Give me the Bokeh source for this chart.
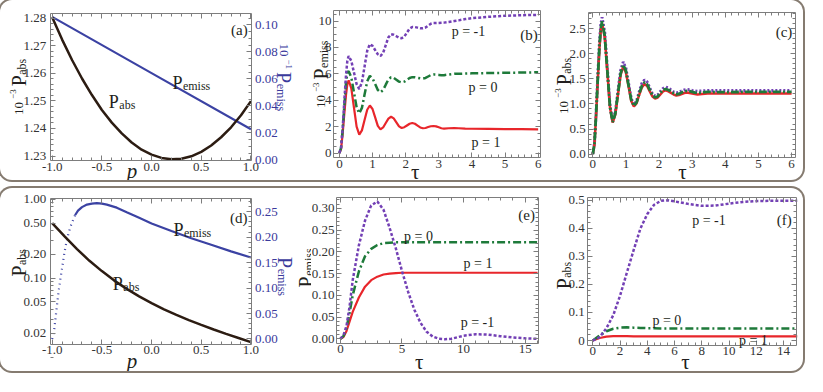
import math
from bokeh.plotting import figure
from bokeh.models import (Range1d, LinearAxis, LogAxis, FixedTicker, PrintfTickFormatter, Label,
                          LinearScale)
from bokeh.layouts import row, column
from bokeh.embed import file_html
from bokeh.resources import INLINE

# ---------------- data ----------------
# (a) 10^-3 P_abs (left axis) and 10^-1 P_emiss (right axis) versus p
p_a = [-1.0, -0.9, -0.8, -0.7, -0.6, -0.5, -0.4, -0.3, -0.2, -0.1, 0.0,
       0.1, 0.2, 0.3, 0.4, 0.5, 0.6, 0.7, 0.8, 0.9, 1.0]
pabs_a = [1.2803, 1.2722, 1.2648, 1.2581, 1.2521, 1.2467, 1.2421, 1.2382, 1.2349, 1.2323, 1.2305,
          1.2293, 1.2288, 1.2290, 1.2299, 1.2315, 1.2338, 1.2368, 1.2404, 1.2448, 1.2499]
p_a_em = [-1.0, 0.0, 1.0]
pemiss_a = [0.106, 0.0643, 0.0227]

# (b), (c) time grid
tau_bc = [0, 0.05, 0.10, 0.15, 0.20, 0.24, 0.28, 0.36, 0.44, 0.52, 0.60, 0.68, 0.76, 0.84, 0.92,
          1.00, 1.08, 1.16, 1.24, 1.32, 1.40, 1.48, 1.56, 1.64, 1.72, 1.80, 1.88, 1.96, 2.04,
          2.12, 2.20, 2.28, 2.36, 2.44, 2.52, 2.60, 2.68, 2.76, 2.84, 2.92, 3.00, 3.08, 3.16,
          3.30, 3.47, 3.60, 3.80, 4.00, 4.50, 5.00, 5.50, 6.00]
# (b) 10^-3 P_emiss
emiss_b_p1 = [0, 0.3, 1.5, 3.0, 4.4, 5.2, 5.5, 4.9, 3.45, 2.0, 1.4, 1.72, 2.5, 3.28, 3.6,
              3.34, 2.7, 2.06, 1.8, 1.94, 2.28, 2.61, 2.75, 2.63, 2.33, 2.02, 1.9, 1.96, 2.09,
              2.22, 2.28, 2.22, 2.08, 1.94, 1.88, 1.9, 1.97, 2.03, 2.05, 2.02, 1.95, 1.88, 1.85,
              1.88, 1.9, 1.88, 1.85, 1.84, 1.83, 1.82, 1.81, 1.8]
emiss_b_0 = [0, 0.4, 1.8, 3.6, 5.3, 6.1, 6.2, 5.73, 4.6, 3.47, 3.0, 3.42, 4.43, 5.43, 5.85,
             5.67, 5.23, 4.78, 4.6, 4.77, 5.18, 5.58, 5.75, 5.69, 5.55, 5.41, 5.35, 5.41, 5.55,
             5.69, 5.75, 5.74, 5.70, 5.66, 5.65, 5.69, 5.80, 5.91, 5.95, 5.94, 5.92, 5.90, 5.90,
             5.95, 6.0, 6.0, 6.02, 6.04, 6.06, 6.08, 6.1, 6.12]
emiss_b_m1 = [0, 0.4, 1.9, 4.0, 5.9, 7.0, 7.35, 6.98, 6.1, 5.22, 4.85, 5.35, 6.55, 7.75, 8.25,
              8.12, 7.8, 7.48, 7.35, 7.59, 8.18, 8.76, 9.0, 8.96, 8.85, 8.74, 8.7, 8.82, 9.13,
              9.43, 9.55, 9.54, 9.5, 9.46, 9.45, 9.51, 9.65, 9.79, 9.85, 9.85, 9.86, 9.87, 9.88,
              9.93, 10.0, 10.05, 10.15, 10.22, 10.32, 10.4, 10.44, 10.47]
# (c) 10^-3 P_abs
abs_c_p1 = [0, 0.19, 0.78, 1.47, 2.11, 2.46, 2.61, 2.33, 1.63, 0.92, 0.63, 0.79, 1.19, 1.58, 1.75,
            1.63, 1.35, 1.06, 0.95, 1.01, 1.18, 1.33, 1.40, 1.36, 1.25, 1.15, 1.11, 1.13, 1.19,
            1.25, 1.27, 1.25, 1.22, 1.19, 1.17, 1.18, 1.2, 1.22, 1.23, 1.22, 1.21, 1.2, 1.19,
            1.2, 1.21, 1.21, 1.21, 1.21, 1.21, 1.21, 1.21, 1.21]
abs_c_0 = [0, 0.2, 0.8, 1.5, 2.15, 2.5, 2.65, 2.36, 1.65, 0.93, 0.64, 0.81, 1.21, 1.61, 1.78,
           1.66, 1.37, 1.08, 0.96, 1.03, 1.2, 1.36, 1.43, 1.39, 1.28, 1.17, 1.13, 1.15, 1.22,
           1.28, 1.30, 1.28, 1.25, 1.21, 1.19, 1.2, 1.23, 1.25, 1.26, 1.255, 1.24, 1.225, 1.22,
           1.23, 1.24, 1.24, 1.235, 1.235, 1.24, 1.24, 1.24, 1.24]
abs_c_m1 = [0, 0.21, 0.83, 1.55, 2.22, 2.58, 2.73, 2.43, 1.7, 0.96, 0.66, 0.84, 1.26, 1.67, 1.84,
            1.71, 1.41, 1.11, 0.98, 1.06, 1.24, 1.41, 1.48, 1.44, 1.32, 1.2, 1.16, 1.18, 1.25,
            1.31, 1.34, 1.32, 1.28, 1.24, 1.22, 1.23, 1.26, 1.28, 1.29, 1.285, 1.27, 1.26, 1.255,
            1.26, 1.27, 1.27, 1.27, 1.27, 1.27, 1.27, 1.27, 1.27]

# (d) P_abs (log, left) and P_emiss (right) versus p
p_d = [-1.0, -0.875, -0.75, -0.625, -0.5, -0.375, -0.25, -0.125, 0.0,
       0.125, 0.25, 0.375, 0.5, 0.625, 0.75, 0.875, 1.0]
pabs_d = [0.500, 0.339, 0.234, 0.166, 0.123, 0.0933, 0.0733, 0.0589, 0.0484,
          0.0403, 0.0343, 0.0295, 0.0257, 0.0224, 0.0197, 0.0175, 0.0155]
p_d_em = [-1.0, -0.98, -0.96, -0.94, -0.92, -0.90, -0.88, -0.86, -0.84, -0.82, -0.80, -0.77,
          -0.74, -0.70, -0.65, -0.60, -0.55, -0.50, -0.45, -0.35, -0.25, -0.125, 0.0, 0.2,
          0.4, 0.6, 0.8, 1.0]
pemiss_d = [0.0, 0.017, 0.052, 0.086, 0.115, 0.139, 0.166, 0.187, 0.204, 0.218, 0.229, 0.243,
            0.252, 0.259, 0.264, 0.266, 0.267, 0.266, 0.264, 0.258, 0.249, 0.238, 0.227, 0.212,
            0.198, 0.185, 0.172, 0.160]
N_DOTTED = 12  # first points of P_emiss(d) drawn as the dotted steep part

# (e) P_emiss versus tau
tau_e = [0, 0.25, 0.5, 0.75, 1.0, 1.5, 2.0, 2.5, 3.0, 3.5, 4.0, 4.5, 5.0, 5.5, 6.0, 6.5, 7.0,
         7.5, 8.0, 8.5, 9.0, 10.0, 11.0, 12.0, 13.0, 14.0, 15.0, 16.0]
emiss_e_m1 = [0, 0.008, 0.03, 0.075, 0.135, 0.215, 0.272, 0.307, 0.316, 0.297, 0.255, 0.208,
              0.156, 0.108, 0.067, 0.037, 0.016, 0.005, 0.0, -0.001, 0.0, 0.007, 0.0105,
              0.0095, 0.006, 0.003, 0.001, 0.0]
emiss_e_0 = [0, 0.006, 0.025, 0.06, 0.10, 0.155, 0.19, 0.207, 0.216, 0.22, 0.221, 0.222, 0.222,
             0.222, 0.222, 0.222, 0.222, 0.222, 0.222, 0.222, 0.222, 0.222, 0.222, 0.222,
             0.222, 0.222, 0.222, 0.222]
emiss_e_p1 = [0, 0.004, 0.018, 0.04, 0.062, 0.095, 0.12, 0.135, 0.143, 0.148, 0.15, 0.151,
              0.152, 0.152, 0.152, 0.152, 0.152, 0.152, 0.152, 0.152, 0.152, 0.152, 0.152,
              0.152, 0.152, 0.152, 0.152, 0.152]

# (f) P_abs versus tau
tau_f = [0, 0.5, 1.0, 1.5, 2.0, 2.5, 3.0, 3.5, 4.0, 4.5, 5.0, 5.5, 6.0, 7.0, 8.0, 9.0, 10.0,
         11.0, 12.0, 13.0, 14.0, 15.0]
abs_f_m1 = [0, 0.012, 0.044, 0.09, 0.16, 0.242, 0.323, 0.40, 0.451, 0.484, 0.498, 0.5, 0.496,
            0.487, 0.480, 0.481, 0.488, 0.494, 0.497, 0.498, 0.498, 0.498]
abs_f_0 = [0, 0.018, 0.033, 0.042, 0.046, 0.047, 0.046, 0.045, 0.044, 0.044, 0.043, 0.043,
           0.043, 0.043, 0.043, 0.043, 0.043, 0.043, 0.043, 0.043, 0.043, 0.043]
abs_f_p1 = [0, 0.009, 0.014, 0.016, 0.016, 0.016, 0.015, 0.015, 0.015, 0.015, 0.015, 0.015,
            0.015, 0.015, 0.015, 0.015, 0.015, 0.015, 0.015, 0.015, 0.015, 0.015]

# tick values
xt_p = [-1.0, -0.5, 0.0, 0.5, 1.0]
yt_a = [1.23, 1.24, 1.25, 1.26, 1.27, 1.28]
yt_a_em = [0.0, 0.02, 0.04, 0.06, 0.08, 0.10]
xt_bc = [0, 1, 2, 3, 4, 5, 6]
yt_b = [0, 2, 4, 6, 8, 10]
yt_c = [0.0, 0.5, 1.0, 1.5, 2.0, 2.5]
yt_d = [0.02, 0.05, 0.1, 0.2, 0.5, 1.0]
yt_d_em = [0.0, 0.05, 0.10, 0.15, 0.20, 0.25]
xt_e = [0, 5, 10, 15]
yt_e = [0.0, 0.05, 0.10, 0.15, 0.20, 0.25, 0.30]
xt_f = [0, 2, 4, 6, 8, 10, 12, 14]
yt_f = [0.0, 0.1, 0.2, 0.3, 0.4, 0.5]

# ---------------- style / geometry ----------------
FONT = "Liberation Serif"
INK = "#231f20"
TICKC = "#333333"
BLUE_TXT = "#3a3a9c"
BLUE = "#3b42a3"
BROWN = "#2c1c12"
RED = "#e8262b"
GREEN = "#1e7a3a"
PURPLE = "#7340b5"
FRAME = "#7d7d7d"
SX = 0.9938

TOP = dict(r0=6, sy=0.978, H=180)
BOT = dict(r0=199, sy=0.979, H=183)
G = {
    "a": dict(x0=0, W=302, **TOP),
    "b": dict(x0=302, W=243, **TOP),
    "c": dict(x0=545, W=258, **TOP),
    "d": dict(x0=0, W=311, **BOT),
    "e": dict(x0=311, W=234, **BOT),
    "f": dict(x0=545, W=258, **BOT),
}


def cx_of(rx, key):
    return (rx - 7) * SX - G[key]["x0"]


def cy_of(ry, key):
    return (ry - G[key]["r0"]) * G[key]["sy"]


def lin(d1, c1, d2, c2):
    s = (d2 - d1) / (c2 - c1)
    return lambda c: d1 + (c - c1) * s


CW = {"0": .5, "1": .5, "2": .5, "3": .5, "4": .5, "5": .5, "6": .5, "7": .5, "8": .5, "9": .5,
      ".": .25, "-": .333, "\u2212": .564, " ": .25, "P": .556, "a": .444, "b": .5, "s": .389,
      "e": .444, "m": .778, "i": .278, "p": .5, "=": .564, "(": .333, ")": .333, "c": .444,
      "d": .5, "f": .333, "\u03c4": .45}


def tw(s, size):
    return size * sum(CW.get(ch, 0.5) for ch in s)


def rich(p, key, rx, ry, parts, angle=0.0, color=INK, style="normal"):
    H = G[key]["H"]
    cx, cy = cx_of(rx, key), cy_of(ry, key)
    ax, ay = math.cos(angle), -math.sin(angle)
    ux, uy = -math.sin(angle), -math.cos(angle)
    pos = 0.0
    for text, size, shift, gap in parts:
        pos += gap
        x = cx + ax * pos + ux * shift
        y = cy + ay * pos + uy * shift
        p.add_layout(Label(x=x, y=H - y, x_units="screen", y_units="screen", text=text,
                           angle=angle, text_font=FONT, text_font_size=f"{size}px",
                           text_font_style=style, text_color=color, text_align="left",
                           text_baseline="alphabetic"))
        pos += tw(text, size)


# composed axis titles (superscript / subscript pieces)
def title_10P(sub, exp):
    return [("10", 13, 0, 0), ("\u2212" + exp, 9, 5.5, 3), ("P", 20, 0, 3), (sub, 12, -3, 0.5)]


def title_P(sub):
    return [("P", 20, 0, 0), (sub, 12, -3, 0.5)]


def style_axis(ax, ticks, minor, fmt=None, labels=True, color=TICKC, overrides=None, standoff=3):
    ax.ticker = FixedTicker(ticks=ticks, minor_ticks=minor)
    if fmt:
        ax.formatter = PrintfTickFormatter(format=fmt)
    if overrides:
        ax.major_label_overrides = overrides
    ax.major_tick_in = 5
    ax.major_tick_out = 0
    ax.minor_tick_in = 3
    ax.minor_tick_out = 0
    ax.major_tick_line_color = FRAME
    ax.minor_tick_line_color = FRAME
    ax.axis_line_color = FRAME
    ax.axis_line_width = 1
    ax.major_label_text_font = FONT
    ax.major_label_text_font_size = "13px"
    ax.major_label_text_color = color
    ax.major_label_standoff = standoff
    if not labels:
        ax.major_label_text_font_size = "0px"
        ax.major_label_text_alpha = 0
        ax.major_label_standoff = 0


def frange(a, b, s):
    n = int(round((b - a) / s))
    return [round(a + i * s, 6) for i in range(n + 1)]


def panel(key, xcal, ycal, xbox, ybox, ylog=False, emcal=None):
    g = G[key]
    W, H = g["W"], g["H"]
    fx = lin(xcal[0], cx_of(xcal[1], key), xcal[2], cx_of(xcal[3], key))
    if ylog:
        fl = lin(math.log10(ycal[0]), cy_of(ycal[1], key), math.log10(ycal[2]), cy_of(ycal[3], key))
        fy = lambda c: 10 ** fl(c)
    else:
        fy = lin(ycal[0], cy_of(ycal[1], key), ycal[2], cy_of(ycal[3], key))
    p = figure(width=W, height=H, x_range=Range1d(fx(0), fx(W)), y_range=Range1d(fy(H), fy(0)),
               y_axis_type="log" if ylog else "linear", x_axis_location=None,
               y_axis_location=None, min_border=0, output_backend="svg", toolbar_location=None)
    p.xgrid.visible = False
    p.ygrid.visible = False
    p.outline_line_color = None
    p.background_fill_color = None
    p.border_fill_color = None
    g["xb"] = (fx(cx_of(xbox[0], key)), fx(cx_of(xbox[1], key)))
    g["yb"] = (fy(cy_of(ybox[1], key)), fy(cy_of(ybox[0], key)))
    if emcal is not None:
        fe = lin(emcal[0], cy_of(emcal[1], key), emcal[2], cy_of(emcal[3], key))
        p.extra_y_ranges = {"em": Range1d(fe(H), fe(0))}
        p.extra_y_scales = {"em": LinearScale()}
        g["eb"] = (fe(cy_of(ybox[1], key)), fe(cy_of(ybox[0], key)))
    return p


def axes(p, key, xt, xm, xfmt, yt, ym, yfmt, ylog=False, yover=None, em=None, ystand=4):
    g = G[key]
    xb, yb = g["xb"], g["yb"]
    b = LinearAxis(fixed_location=yb[0], bounds=xb)
    style_axis(b, xt, xm, xfmt, standoff=2)
    p.add_layout(b, "below")
    t = LinearAxis(fixed_location=yb[1], bounds=xb)
    style_axis(t, xt, xm, labels=False)
    p.add_layout(t, "above")
    Ax = LogAxis if ylog else LinearAxis
    lft = Ax(fixed_location=xb[0], bounds=yb)
    style_axis(lft, yt, ym, yfmt, overrides=yover, standoff=ystand)
    p.add_layout(lft, "left")
    if em is None:
        r = Ax(fixed_location=xb[1], bounds=yb)
        style_axis(r, yt, ym, labels=False)
    else:
        r = LinearAxis(y_range_name="em", fixed_location=xb[1], bounds=g["eb"])
        style_axis(r, em[0], em[1], "%.2f", color=BLUE_TXT, standoff=3)
    p.add_layout(r, "right")


CCW, CWR = math.pi / 2, -math.pi / 2

# ---------------- (a) ----------------
fa = panel("a", (-1.0, 59, 1.0, 259), (1.23, 165, 1.28, 24), (57, 260), (19, 170),
           emcal=(0.0, 169, 0.10, 31))
axes(fa, "a", xt_p, frange(-1, 1, 0.1), "%.1f", yt_a, frange(1.23, 1.28, 0.002), "%.2f",
     em=(yt_a_em, frange(0, 0.105, 0.005)))
fa.line(p_a_em, pemiss_a, y_range_name="em", line_color=BLUE, line_width=2.2)
fa.line(p_a, pabs_a, line_color=BROWN, line_width=2.5)
rich(fa, "a", 239, 36, [("(a)", 15, 0, 0)])
rich(fa, "a", 180, 90, [("P", 18, 0, 0), ("emiss", 12, -3, 0.5)])
rich(fa, "a", 116, 110, [("P", 18, 0, 0), ("abs", 12, -3, 0.5)])
rich(fa, "a", 134, 180, [("p", 21, 0, 0)], style="italic")
rich(fa, "a", 25.5, 123, title_10P("abs", "3"), angle=CCW)
rich(fa, "a", 292, 50, title_10P("emiss", "1"), angle=CWR, color=BLUE_TXT)

# ---------------- (b) ----------------
fb = panel("b", (0, 348, 6, 548), (0, 162, 10, 27), (342, 550), (16, 167))
axes(fb, "b", xt_bc, frange(0, 6, 0.2), "%d", yt_b, frange(0, 10.5, 0.5), "%d", ystand=2)
fb.line(tau_bc, emiss_b_p1, line_color=RED, line_width=2.2)
fb.line(tau_bc, emiss_b_0, line_color=GREEN, line_width=2.5, line_dash="8 3 2 3")
fb.line(tau_bc, emiss_b_m1, line_color=PURPLE, line_width=2.5, line_dash="3 2")
rich(fb, "b", 530, 41, [("(b)", 15, 0, 0)])
rich(fb, "b", 461, 38, [("p = -1", 14, 0, 0)])
rich(fb, "b", 478, 95, [("p = 0", 14, 0, 0)])
rich(fb, "b", 481, 151, [("p = 1", 14, 0, 0)])
rich(fb, "b", 420, 181, [("\u03c4", 21, 0, 0)])
rich(fb, "b", 329.5, 116, title_10P("emiss", "3"), angle=CCW)

# ---------------- (c) ----------------
fc = panel("c", (0, 603, 6, 803), (0, 163, 2.5, 35), (599, 807), (18, 167))
axes(fc, "c", xt_bc, frange(0, 6, 0.2), "%d", yt_c, frange(0, 2.8, 0.1), "%.1f", ystand=3)
fc.line(tau_bc, abs_c_m1, line_color=PURPLE, line_width=3, line_dash="2 2")
fc.line(tau_bc, abs_c_p1, line_color=RED, line_width=2.5)
fc.line(tau_bc, abs_c_0, line_color=GREEN, line_width=2.8, line_dash="8 2 2 2")
rich(fc, "c", 787, 38, [("(c)", 15, 0, 0)])
rich(fc, "c", 689, 181, [("\u03c4", 21, 0, 0)])
rich(fc, "c", 574, 122, title_10P("abs", "3"), angle=CCW)

# ---------------- (d) ----------------
fd = panel("d", (-1.0, 59, 1.0, 259), (1.0, 210, 0.02, 347), (57, 260), (209.5, 358),
           ylog=True, emcal=(0.0, 352.7, 0.25, 222.7))
log_minor = [round(0.01 * k, 3) for k in range(1, 10)] + [round(0.1 * k, 2) for k in range(1, 11)]
axes(fd, "d", xt_p, frange(-1, 1, 0.1), "%.1f", yt_d, log_minor, "%.2f", ylog=True,
     em=(yt_d_em, frange(0, 0.27, 0.01)))
fd.line(p_d_em[:N_DOTTED], pemiss_d[:N_DOTTED], y_range_name="em", line_color=BLUE,
        line_width=2.2, line_dash="1 4")
fd.line(p_d_em[N_DOTTED - 1:], pemiss_d[N_DOTTED - 1:], y_range_name="em", line_color=BLUE,
        line_width=2.2)
fd.line(p_d, pabs_d, line_color=BROWN, line_width=2.5)
rich(fd, "d", 238, 229, [("(d)", 15, 0, 0)])
rich(fd, "d", 181, 241, [("P", 18, 0, 0), ("emiss", 12, -3, 0.5)])
rich(fd, "d", 120, 297, [("P", 18, 0, 0), ("abs", 12, -3, 0.5)])
rich(fd, "d", 134, 375, [("p", 21, 0, 0)], style="italic")
rich(fd, "d", 25.5, 289, title_P("abs"), angle=CCW)
rich(fd, "d", 293, 269, title_P("emiss"), angle=CWR, color=BLUE_TXT)
# axis title of panel (e) lies left of its tick labels, drawn on this canvas
rich(fd, "d", 314, 300, title_P("emiss"), angle=CCW)

# ---------------- (e) ----------------
fe = panel("e", (0, 349, 15, 535), (0, 352.5, 0.30, 219.4), (345, 548), (208, 357))
axes(fe, "e", xt_e, frange(0, 16, 1), "%d", yt_e, frange(0, 0.32, 0.01), "%.2f", ystand=2)
fe.line(tau_e, emiss_e_p1, line_color=RED, line_width=2.2)
fe.line(tau_e, emiss_e_0, line_color=GREEN, line_width=2.5, line_dash="8 3 2 3")
fe.line(tau_e, emiss_e_m1, line_color=PURPLE, line_width=2.5, line_dash="3 2")
rich(fe, "e", 528, 226, [("(e)", 15, 0, 0)])
rich(fe, "e", 413, 248, [("p = 0", 14, 0, 0)])
rich(fe, "e", 473, 276, [("p = 1", 14, 0, 0)])
rich(fe, "e", 470, 336, [("p = -1", 14, 0, 0)])
rich(fe, "e", 424, 376, [("\u03c4", 21, 0, 0)])

# ---------------- (f) ----------------
ff = panel("f", (0, 603, 14, 795), (0, 354.3, 0.5, 211), (598, 808), (208, 359))
axes(ff, "f", xt_f, frange(0, 14.5, 0.5), "%d", yt_f, frange(0, 0.5, 0.02), "%.1f",
     yover={0: "0"}, ystand=3)
ff.line(tau_f, abs_f_p1, line_color=RED, line_width=2.2)
ff.line(tau_f, abs_f_0, line_color=GREEN, line_width=2.5, line_dash="8 3 2 3")
ff.line(tau_f, abs_f_m1, line_color=PURPLE, line_width=2.5, line_dash="3 2")
rich(ff, "f", 788, 231, [("(f)", 15, 0, 0)])
rich(ff, "f", 703, 232, [("p = -1", 14, 0, 0)])
rich(ff, "f", 663, 334, [("p = 0", 14, 0, 0)])
rich(ff, "f", 750, 354, [("p = 1", 14, 0, 0)])
rich(ff, "f", 692, 376, [("\u03c4", 21, 0, 0)])
rich(ff, "f", 574, 302, title_P("abs"), angle=CCW)

BOX = {"box-shadow": "0 0 0 2px #857b70", "border-radius": "12px",
       "background-color": "white", "overflow": "hidden"}
top = row(fa, fb, fc, spacing=0, styles=BOX)
bot = row(fd, fe, ff, spacing=0, styles=BOX)
lay = column(top, bot, spacing=8)

open("out.html", "w").write(file_html(lay, INLINE, title="panels"))
